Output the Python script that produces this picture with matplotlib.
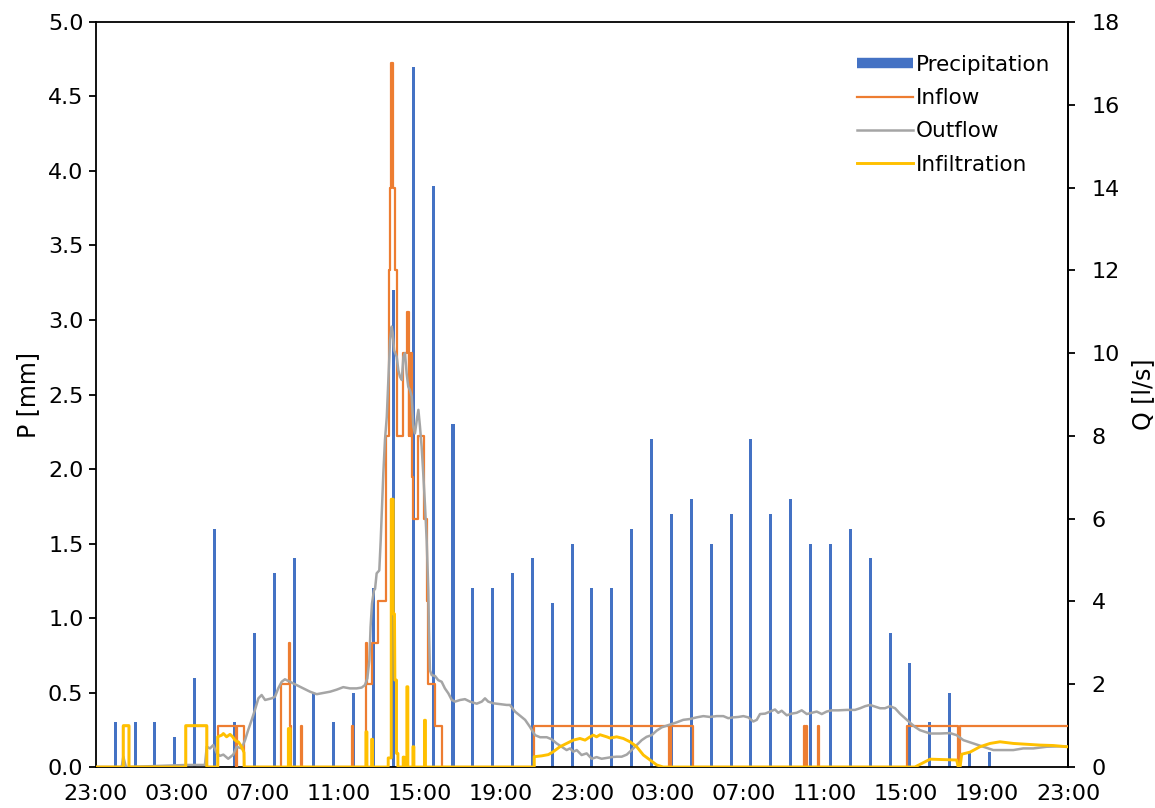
import matplotlib
matplotlib.use("Agg")
import matplotlib.pyplot as plt
from matplotlib.lines import Line2D

# time axis: hours after 23:00 on day 1 (0 .. 48)
tick_hours = [0, 4, 8, 12, 16, 20, 24, 28, 32, 36, 40, 44, 48]
tick_labels = ["23:00", "03:00", "07:00", "11:00", "15:00", "19:00", "23:00",
               "03:00", "07:00", "11:00", "15:00", "19:00", "23:00"]

# hourly precipitation [mm]
bar_hours = [0.95, 1.93, 2.91, 3.89, 4.87, 5.86, 6.84, 7.82, 8.80, 9.78,
             10.76, 11.74, 12.72, 13.70, 14.68, 15.66, 16.65, 17.63, 18.61, 19.59,
             20.57, 21.55, 22.53, 23.51, 24.49, 25.47, 26.46, 27.44, 28.42, 29.40,
             30.38, 31.36, 32.34, 33.32, 34.30, 35.28, 36.26, 37.25, 38.23, 39.21,
             40.19, 41.17, 42.15, 43.13, 44.11]
precip_mm = [0.3, 0.3, 0.3, 0.2, 0.6, 1.6, 0.3, 0.9, 1.3, 1.4,
             0.5, 0.3, 0.5, 1.2, 3.2, 4.7, 3.9, 2.3, 1.2, 1.2,
             1.3, 1.4, 1.1, 1.5, 1.2, 1.2, 1.6, 2.2, 1.7, 1.8,
             1.5, 1.7, 2.2, 1.7, 1.8, 1.5, 1.5, 1.6, 1.4, 0.9,
             0.7, 0.3, 0.5, 0.1, 0.1]

# inflow [l/s], value holds from each time until the next
inflow_t = [0.00, 1.35, 1.63, 4.43, 5.47, 6.01, 6.91, 6.96, 7.31, 9.12,
            9.51, 9.60, 9.65, 10.11, 10.17, 12.63, 12.71, 13.33, 13.40, 13.64,
            13.94, 14.32, 14.47, 14.54, 14.58, 14.67, 14.75, 14.85, 15.16, 15.34,
            15.44, 15.48, 15.52, 15.56, 15.59, 15.67, 15.92, 16.20, 16.36, 16.41,
            16.74, 17.10, 21.64, 28.31, 28.40, 29.47, 34.98, 35.03, 35.08, 35.13,
            35.65, 35.70, 40.03, 42.58, 42.67, 48.00]
inflow_q = [0, 1, 0, 1, 0, 1, 0, 1, 0, 2,
            3, 1, 0, 1, 0, 1, 0, 3, 2, 3,
            4, 8, 12, 14, 17, 14, 12, 8, 10, 11,
            8, 10, 8, 10, 7, 6, 8, 6, 4, 2,
            1, 0, 1, 0, 1, 0, 1, 0, 1, 0,
            1, 0, 1, 0, 1, 1]

# outflow [l/s]
outflow_t = [0.00, 1.27, 1.35, 1.48, 4.48, 5.38, 5.47, 5.63, 5.79, 5.96,
             6.12, 6.29, 6.53, 6.78, 6.95, 7.19, 7.36, 7.52, 7.69, 7.85,
             8.02, 8.18, 8.35, 8.68, 8.84, 9.00, 9.17, 9.33, 9.58, 9.91,
             10.24, 10.57, 10.90, 11.23, 11.56, 11.89, 12.21, 12.54, 12.87, 13.12,
             13.28, 13.40, 13.50, 13.56, 13.63, 13.73, 13.78, 13.86, 13.99, 14.06,
             14.19, 14.27, 14.36, 14.44, 14.52, 14.60, 14.65, 14.72, 14.85, 14.93,
             15.01, 15.10, 15.18, 15.26, 15.34, 15.42, 15.51, 15.59, 15.67, 15.75,
             15.84, 15.92, 16.00, 16.08, 16.16, 16.25, 16.33, 16.41, 16.44, 16.49,
             16.58, 16.74, 16.90, 17.07, 17.23, 17.40, 17.57, 17.73, 17.98, 18.22,
             18.47, 18.72, 18.80, 19.05, 19.21, 19.37, 19.62, 19.95, 20.28, 20.44,
             20.69, 20.94, 21.19, 21.43, 21.68, 21.93, 22.26, 22.50, 22.75, 23.00,
             23.24, 23.41, 23.57, 23.74, 23.98, 24.23, 24.48, 24.72, 24.97, 25.22,
             25.47, 25.71, 25.96, 26.21, 26.45, 26.70, 26.95, 27.19, 27.44, 27.69,
             27.94, 28.18, 28.43, 28.68, 29.00, 29.33, 29.66, 29.99, 30.32, 30.65,
             30.98, 31.22, 31.47, 31.72, 31.97, 32.21, 32.46, 32.63, 32.79, 33.04,
             33.28, 33.53, 33.69, 33.86, 34.11, 34.35, 34.60, 34.85, 35.10, 35.34,
             35.59, 35.84, 36.08, 36.33, 36.66, 37.07, 37.48, 37.73, 37.98, 38.22,
             38.47, 38.72, 38.96, 39.21, 39.46, 39.70, 39.95, 40.20, 40.44, 40.69,
             41.19, 41.68, 42.17, 42.50, 42.83, 43.32, 43.82, 44.31, 44.81, 45.30,
             45.79, 46.29, 46.95, 47.60, 48.00]
outflow_q = [0.00, 0.00, 0.25, 0.00, 0.05, 0.05, 0.49, 0.45, 0.53, 0.34,
             0.27, 0.30, 0.20, 0.30, 0.49, 0.45, 0.65, 0.90, 1.14, 1.38,
             1.66, 1.74, 1.62, 1.66, 1.70, 1.90, 2.06, 2.12, 2.06, 1.98,
             1.90, 1.82, 1.76, 1.79, 1.82, 1.87, 1.93, 1.90, 1.90, 1.92,
             1.98, 2.14, 2.58, 3.39, 3.95, 4.28, 4.30, 4.68, 4.75, 5.48,
             7.10, 7.90, 8.46, 9.35, 10.30, 10.64, 10.50, 10.07, 9.91, 9.59,
             9.43, 9.35, 9.91, 10.00, 9.51, 9.19, 9.10, 8.95, 8.22, 8.06,
             8.38, 8.63, 8.22, 7.74, 7.10, 6.29, 5.48, 4.28, 3.39, 2.34,
             2.22, 2.20, 2.10, 2.06, 1.90, 1.78, 1.62, 1.58, 1.62, 1.64,
             1.58, 1.54, 1.53, 1.58, 1.66, 1.58, 1.54, 1.52, 1.50, 1.50,
             1.34, 1.24, 1.14, 0.97, 0.77, 0.72, 0.72, 0.67, 0.57, 0.49,
             0.41, 0.45, 0.37, 0.41, 0.29, 0.33, 0.20, 0.24, 0.20, 0.22,
             0.24, 0.25, 0.25, 0.30, 0.41, 0.53, 0.65, 0.73, 0.77, 0.88,
             0.96, 1.00, 1.04, 1.08, 1.14, 1.16, 1.20, 1.23, 1.21, 1.23,
             1.23, 1.18, 1.20, 1.21, 1.23, 1.20, 1.10, 1.14, 1.28, 1.29,
             1.34, 1.39, 1.31, 1.36, 1.25, 1.29, 1.31, 1.37, 1.28, 1.31,
             1.34, 1.28, 1.34, 1.37, 1.37, 1.38, 1.38, 1.42, 1.47, 1.50,
             1.46, 1.42, 1.42, 1.47, 1.42, 1.29, 1.18, 1.07, 0.97, 0.89,
             0.81, 0.81, 0.82, 0.77, 0.65, 0.57, 0.49, 0.41, 0.41, 0.41,
             0.45, 0.45, 0.49, 0.50, 0.49]

# infiltration [l/s]
infil_t = [0.00, 1.35, 1.35, 1.63, 1.63, 4.43, 4.43, 5.47, 5.47, 6.01,
           6.01, 6.21, 6.29, 6.45, 6.62, 6.75, 6.86, 6.95, 7.03, 7.19,
           7.31, 7.32, 9.50, 9.50, 9.59, 9.59, 13.33, 13.33, 13.38, 13.38,
           13.61, 13.61, 13.66, 13.66, 14.43, 14.43, 14.58, 14.58, 14.68, 14.68,
           14.74, 14.76, 14.84, 14.84, 14.91, 14.91, 15.17, 15.17, 15.22, 15.22,
           15.35, 15.35, 15.40, 15.40, 15.65, 15.65, 15.70, 15.70, 16.22, 16.22,
           16.27, 16.27, 21.64, 21.64, 22.01, 22.34, 22.58, 22.91, 23.24, 23.57,
           23.90, 24.15, 24.40, 24.56, 24.72, 24.89, 25.22, 25.38, 25.71, 26.04,
           26.37, 26.70, 27.03, 27.36, 27.69, 28.01, 40.44, 41.19, 41.84, 42.50,
           42.58, 42.67, 42.75, 43.16, 43.65, 44.15, 44.64, 45.30, 45.96, 46.62,
           47.27, 47.94, 48.00]
infil_q = [0.00, 0.00, 1.00, 1.00, 0.00, 0.00, 1.00, 1.00, 0.00, 0.00,
           0.73, 0.77, 0.81, 0.73, 0.79, 0.73, 0.65, 0.62, 0.61, 0.49,
           0.35, 0.00, 0.00, 0.93, 0.93, 0.00, 0.00, 0.85, 0.85, 0.00,
           0.00, 0.67, 0.67, 0.00, 0.00, 0.22, 0.22, 6.47, 6.47, 3.70,
           3.70, 2.10, 2.10, 0.33, 0.33, 0.00, 0.00, 0.24, 0.24, 0.00,
           0.00, 1.94, 1.94, 0.00, 0.00, 0.49, 0.49, 0.00, 0.00, 1.13,
           1.13, 0.00, 0.00, 0.25, 0.27, 0.30, 0.37, 0.49, 0.57, 0.65,
           0.69, 0.65, 0.73, 0.77, 0.73, 0.78, 0.73, 0.70, 0.73, 0.69,
           0.61, 0.49, 0.29, 0.17, 0.05, 0.00, 0.00, 0.19, 0.18, 0.17,
           0.00, 0.00, 0.31, 0.36, 0.49, 0.57, 0.61, 0.57, 0.55, 0.53,
           0.52, 0.49, 0.49]

BLUE = "#4472C4"
ORANGE = "#ED7D31"
GREY = "#A5A5A5"
YELLOW = "#FFC000"

plt.rcParams["font.family"] = ["DejaVu Sans"]
FS = 15.5
TICK_FS = 16
LABEL_FS = 17

fig = plt.figure(figsize=(11.55, 8.08), dpi=100)
ax = fig.add_axes([0.0831, 0.0507, 0.8416, 0.9221])
ax2 = ax.twinx()

ax.bar(bar_hours, precip_mm, width=0.15, color=BLUE, zorder=2)

ax2.plot(inflow_t, inflow_q, drawstyle="steps-post", color=ORANGE, lw=1.6, zorder=3)
ax2.plot(outflow_t, outflow_q, color=GREY, lw=1.8, zorder=3)
ax2.plot(infil_t, infil_q, color=YELLOW, lw=2.1, zorder=4)

ax.set_xlim(0, 48)
ax.set_ylim(0, 5)
ax2.set_ylim(0, 18)
ax.set_xticks(tick_hours)
ax.set_xticklabels(tick_labels)
ax.set_yticks([i * 0.5 for i in range(11)])
ax.set_yticklabels([f"{i * 0.5:.1f}" for i in range(11)])
ax2.set_yticks(range(0, 19, 2))

ax.set_ylabel("P [mm]", fontsize=LABEL_FS, labelpad=6)
ax2.set_ylabel("Q [l/s]", fontsize=LABEL_FS, labelpad=8)

ax.tick_params(axis="x", length=0, pad=12, labelsize=TICK_FS)
ax.tick_params(axis="y", direction="out", length=5, width=1.3, pad=4, labelsize=TICK_FS)
ax2.tick_params(axis="y", direction="out", length=5, width=1.3, pad=12, labelsize=TICK_FS)

for sp in ax.spines.values():
    sp.set_linewidth(1.3)
    sp.set_color("black")
for name in ("left", "bottom", "top"):
    ax2.spines[name].set_visible(False)
ax2.spines["right"].set_linewidth(1.3)

handles = [Line2D([], [], color=BLUE, lw=7.5, solid_capstyle="butt"),
           Line2D([], [], color=ORANGE, lw=1.6),
           Line2D([], [], color=GREY, lw=1.8),
           Line2D([], [], color=YELLOW, lw=2.1)]
ax2.legend(handles, ["Precipitation", "Inflow", "Outflow", "Infiltration"],
           loc="upper right", bbox_to_anchor=(1.002, 0.982), frameon=False,
           fontsize=FS, handlelength=2.6, handletextpad=0.15, labelspacing=0.62)

fig.savefig("out.png", dpi=100)
